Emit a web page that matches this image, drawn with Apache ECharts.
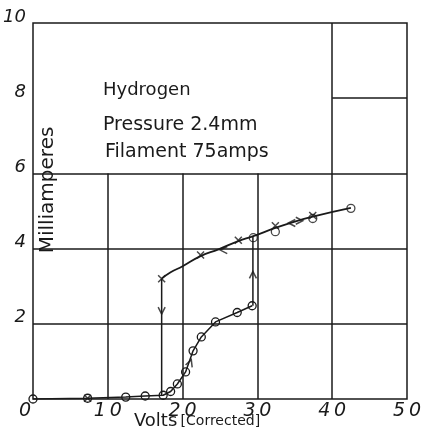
<!DOCTYPE html>
<html>
<head>
<meta charset="utf-8">
<script src="https://cdn.jsdelivr.net/npm/echarts@6/dist/echarts.min.js"></script>
<style>html,body{margin:0;padding:0;background:#fff;}#c{width:423px;height:431px;}</style>
</head>
<body>
<div id="c"></div>
<script>
// ---- data ----
var xTickLabels = ['0', '10', '20', '30', '40', '50'];
var yTickLabels = ['', '2', '4', '6', '8', '10'];
// rising run (circles)
var risingX = [0, 7.3, 12.4, 15.0, 17.4, 18.4, 19.3, 20.4, 21.4, 22.5, 24.4, 27.3, 29.3];
var risingY = [0.0, 0.02, 0.05, 0.08, 0.1, 0.2, 0.4, 0.72, 1.28, 1.65, 2.05, 2.3, 2.48];
// jump up at ~29.5 V
var jumpUpX = [29.4, 29.4];
var jumpUpY = [2.48, 4.33];
// falling run (upper curve)
var fallingX = [42.5, 37.4, 35.0, 32.4, 29.45, 27.45, 24.8, 22.4, 20.0, 18.4, 17.2];
var fallingY = [5.08, 4.85, 4.72, 4.55, 4.33, 4.2, 3.98, 3.8, 3.53, 3.37, 3.2];
// drop at ~17.2 V
var dropX = [17.2, 17.2];
var dropY = [3.2, 0.1];
// circle marks on the upper curve
var upperCircleX = [42.5, 37.4, 32.4, 29.45];
var upperCircleY = [5.07, 4.8, 4.45, 4.29];
// cross marks
var crossX = [37.4, 32.4, 27.45, 22.4, 17.2, 7.3];
var crossY = [4.88, 4.61, 4.22, 3.83, 3.2, 0.02];
// arrow marks: position and pointing direction (deg, counter-clockwise from +x)
var arrowX = [17.2, 29.4, 21.0, 25.5, 34.6, 35.6];
var arrowY = [2.35, 3.3, 0.96, 3.96, 4.68, 4.74];
var arrowDir = [-90, 90, 70, 180, 180, 0];

var ink = '#1a1a1a';
var font = 'DejaVu Sans';

function pairs(xs, ys) { return xs.map(function (x, i) { return [x, ys[i]]; }); }

// internal grid segments: [x1,y1,x2,y2]
var gridSegs = [
  [0, 2, 50, 2], [0, 4, 50, 4], [0, 6, 50, 6], [40, 8, 50, 8],
  [10, 0, 10, 6], [20, 0, 20, 6], [30, 0, 30, 6], [40, 0, 40, 10]
];

var chart = echarts.init(document.getElementById('c'), null, {renderer: 'canvas'});
var option = {
  backgroundColor: '#fff',
  animation: false,
  grid: {left: 33, right: 16, top: 23, bottom: 32, containLabel: false, outerBoundsMode: 'none',
         show: true, borderColor: ink, borderWidth: 1.5, backgroundColor: 'transparent'},
  xAxis: {
    type: 'value', min: 0, max: 50, interval: 10,
    axisLine: {show: false}, axisTick: {show: false}, splitLine: {show: false},
    axisLabel: {
      margin: 3, color: ink, fontFamily: font, fontStyle: 'italic', fontSize: 19,
      formatter: function (v) { var s = xTickLabels[Math.round(v / 10)].split('').join('\u2009'); return v === 0 ? '{z|' + s + '}' : s; },
      rich: {z: {padding: [0, 16, 0, 0], fontFamily: font, fontStyle: 'italic', fontSize: 19, color: ink}}
    }
  },
  yAxis: {
    type: 'value', min: 0, max: 10, interval: 2,
    axisLine: {show: false}, axisTick: {show: false}, splitLine: {show: false},
    axisLabel: {
      margin: 7, color: ink, fontFamily: font, fontStyle: 'italic', fontSize: 18,
      verticalAlign: 'bottom', lineHeight: 12,
      formatter: function (v) { return yTickLabels[Math.round(v / 2)]; }
    }
  },
  graphic: [
    {type: 'text', left: 103, top: 81, style: {text: 'Hydrogen', font: '18px "DejaVu Sans"', fill: ink}},
    {type: 'text', left: 103, top: 116, style: {text: 'Pressure 2.4mm', font: '19px "DejaVu Sans"', fill: ink}},
    {type: 'text', left: 105, top: 143, style: {text: 'Filament 75amps', font: '19px "DejaVu Sans"', fill: ink}},
    {type: 'text', x: 48, y: 190, rotation: Math.PI / 2,
     style: {text: 'Milliamperes', font: '20px "DejaVu Sans"', fill: ink, align: 'center', verticalAlign: 'middle'}},
    {type: 'text', x: 197, y: 421,
     style: {text: '{a|Volts} {b|[Corrected]}', align: 'center', verticalAlign: 'middle',
             rich: {a: {fontFamily: font, fontSize: 18, fill: ink, color: ink}, b: {fontFamily: font, fontSize: 14, fill: ink, color: ink}}}}
  ],
  series: [
    {
      type: 'line', data: [], silent: true,
      markLine: {
        silent: true, symbol: ['none', 'none'], label: {show: false},
        lineStyle: {color: ink, width: 1.5, type: 'solid'},
        data: gridSegs.map(function (s) { return [{coord: [s[0], s[1]]}, {coord: [s[2], s[3]]}]; })
      }
    },
    {
      type: 'line', data: pairs(risingX, risingY), smooth: false,
      symbol: 'circle', symbolSize: 8, showSymbol: true,
      lineStyle: {color: ink, width: 1.5},
      itemStyle: {color: 'rgba(255,255,255,0)', borderColor: ink, borderWidth: 1.3}
    },
    {type: 'line', data: pairs(jumpUpX, jumpUpY), symbol: 'none', lineStyle: {color: ink, width: 1.5}},
    {type: 'line', data: pairs(fallingX, fallingY), smooth: 0.5, symbol: 'none', lineStyle: {color: ink, width: 1.8}},
    {type: 'line', data: pairs(dropX, dropY), symbol: 'none', lineStyle: {color: ink, width: 1.5}},
    {
      type: 'scatter', data: pairs(upperCircleX, upperCircleY), symbol: 'circle', symbolSize: 8,
      itemStyle: {color: 'rgba(255,255,255,0)', borderColor: ink, borderWidth: 1.3}
    },
    {
      type: 'scatter', data: pairs(crossX, crossY), symbol: 'path://M0,0L10,10M10,0L0,10', symbolSize: 7,
      itemStyle: {color: 'none', borderColor: ink, borderWidth: 1.5}
    },
    {
      type: 'scatter', data: arrowX.map(function (x, i) { return {value: [x, arrowY[i]], symbolRotate: arrowDir[i] + 90}; }),
      symbol: 'path://M0,0L5,8L10,0', symbolSize: [7, 7],
      itemStyle: {color: 'none', borderColor: ink, borderWidth: 1.5}
    }
  ]
};
chart.setOption(option);
</script>
</body>
</html>
